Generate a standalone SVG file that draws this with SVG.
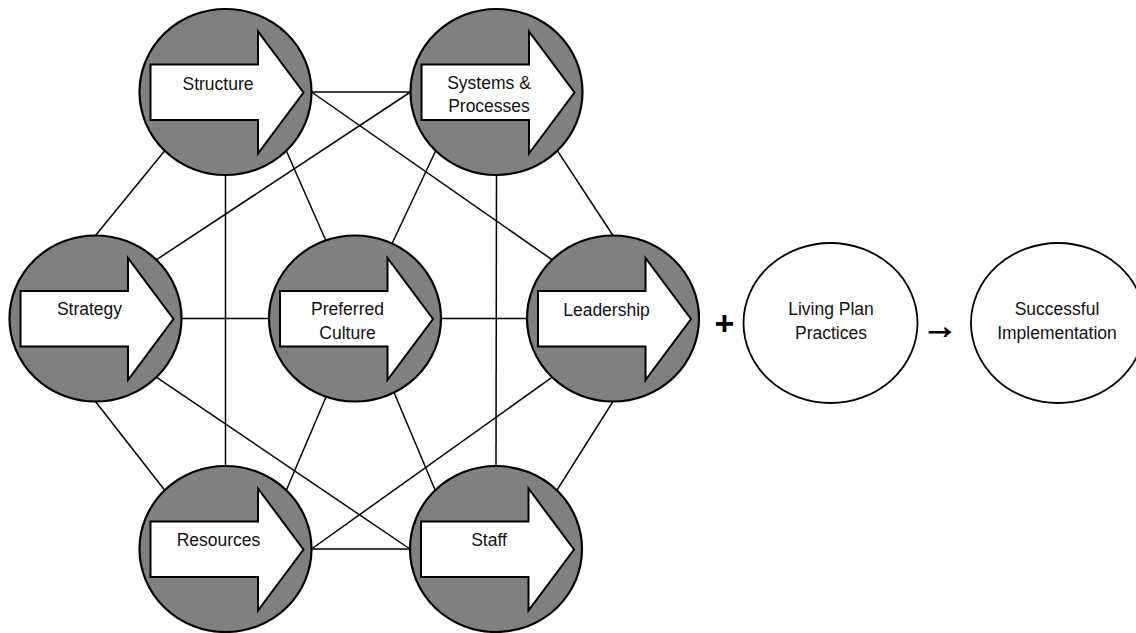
<svg xmlns="http://www.w3.org/2000/svg" xmlns:xlink="http://www.w3.org/1999/xlink" width="1136" height="633" viewBox="0 0 1136 633">
  <style>
    .link { stroke: #000; stroke-width: 1.5; fill: none; }
    .disc { fill: #808080; stroke: #000; stroke-width: 2.2; }
    .plain { fill: #fff; stroke: #000; stroke-width: 1.8; }
    .arrow { fill: #fff; stroke: #000; stroke-width: 2; stroke-linejoin: miter; }
    .lbl { font-family: "Liberation Sans", Arial, sans-serif; font-size: 17.5px; fill: #111; text-anchor: middle; }
    .op { font-family: "Liberation Sans", Arial, sans-serif; font-weight: bold; fill: #000; text-anchor: middle; }
  </style>
  <defs>
    <!-- block arrow inside each grey disc, centred on the disc centre -->
    <path id="blockArrow" class="arrow" d="M-75,-27.5 H32.5 V-60.5 L78,0.5 L32.5,61.5 V28 H-75 Z"/>
  </defs>
  <rect width="1136" height="633" fill="#fff"/>

  <!-- connectors between the seven elements -->
  <g id="connectors">
    <line class="link" x1="164.7" y1="150.7" x2="95.5" y2="235.5"/>
    <line class="link" x1="225.5" y1="175" x2="225.5" y2="466"/>
    <line class="link" x1="286.3" y1="150.7" x2="330" y2="250"/>
    <line class="link" x1="311.5" y1="92" x2="410.5" y2="92"/>
    <line class="link" x1="311.5" y1="92" x2="552.2" y2="259.8"/>
    <line class="link" x1="156.3" y1="259.8" x2="410.5" y2="92"/>
    <line class="link" x1="435.7" y1="150.7" x2="389" y2="250"/>
    <line class="link" x1="557.3" y1="150.7" x2="613" y2="235.5"/>
    <line class="link" x1="496.5" y1="175" x2="496" y2="466"/>
    <line class="link" x1="181.5" y1="318.5" x2="269" y2="318.5"/>
    <line class="link" x1="441" y1="318.5" x2="527" y2="318.5"/>
    <line class="link" x1="95.5" y1="401.5" x2="164.7" y2="490.3"/>
    <line class="link" x1="156.3" y1="377.2" x2="410" y2="549"/>
    <line class="link" x1="286.3" y1="490.3" x2="329" y2="390"/>
    <line class="link" x1="435.2" y1="490.3" x2="393" y2="390"/>
    <line class="link" x1="552.2" y1="377.2" x2="311.5" y2="549"/>
    <line class="link" x1="613" y1="401.5" x2="556.8" y2="490.3"/>
    <line class="link" x1="311.5" y1="549" x2="410" y2="549"/>
  </g>

  <g id="structure">
    <ellipse class="disc" cx="225.5" cy="92" rx="86" ry="83"/>
    <use xlink:href="#blockArrow" href="#blockArrow" transform="translate(225.5 92)"/>
    <text class="lbl" x="218" y="89.5">Structure</text>
  </g>

  <g id="systems-processes">
    <ellipse class="disc" cx="496.5" cy="92" rx="86" ry="83"/>
    <use xlink:href="#blockArrow" href="#blockArrow" transform="translate(496.5 92)"/>
    <text class="lbl" x="489" y="89">Systems &amp;</text>
    <text class="lbl" x="489" y="112">Processes</text>
  </g>

  <g id="strategy">
    <ellipse class="disc" cx="95.5" cy="318.5" rx="86" ry="83"/>
    <use xlink:href="#blockArrow" href="#blockArrow" transform="translate(95.5 318.5)"/>
    <text class="lbl" x="89.5" y="315">Strategy</text>
  </g>

  <g id="preferred-culture">
    <ellipse class="disc" cx="355" cy="318.5" rx="86" ry="83"/>
    <use xlink:href="#blockArrow" href="#blockArrow" transform="translate(355 318.5)"/>
    <text class="lbl" x="347.5" y="315">Preferred</text>
    <text class="lbl" x="347.5" y="339">Culture</text>
  </g>

  <g id="leadership">
    <ellipse class="disc" cx="613" cy="318.5" rx="86" ry="83"/>
    <use xlink:href="#blockArrow" href="#blockArrow" transform="translate(613 318.5)"/>
    <text class="lbl" x="606.5" y="316">Leadership</text>
  </g>

  <g id="resources">
    <ellipse class="disc" cx="225.5" cy="549" rx="86" ry="83"/>
    <use xlink:href="#blockArrow" href="#blockArrow" transform="translate(225.5 549)"/>
    <text class="lbl" x="218.5" y="545.5">Resources</text>
  </g>

  <g id="staff">
    <ellipse class="disc" cx="496" cy="549" rx="86" ry="83"/>
    <use xlink:href="#blockArrow" href="#blockArrow" transform="translate(496 549)"/>
    <text class="lbl" x="489" y="545.5">Staff</text>
  </g>

  <g id="plus-sign">
    <text class="op" x="724.5" y="335" font-size="34">+</text>
  </g>

  <g id="living-plan-practices">
    <ellipse class="plain" cx="830.5" cy="323" rx="87" ry="80"/>
    <text class="lbl" x="831" y="315">Living Plan</text>
    <text class="lbl" x="831" y="339">Practices</text>
  </g>

  <g id="results-arrow">
    <text class="op" x="940" y="338" font-size="36" stroke="#000" stroke-width="1">→</text>
  </g>

  <g id="successful-implementation">
    <ellipse class="plain" cx="1058" cy="323" rx="87" ry="80"/>
    <text class="lbl" x="1057" y="315">Successful</text>
    <text class="lbl" x="1057" y="339">Implementation</text>
  </g>
</svg>
